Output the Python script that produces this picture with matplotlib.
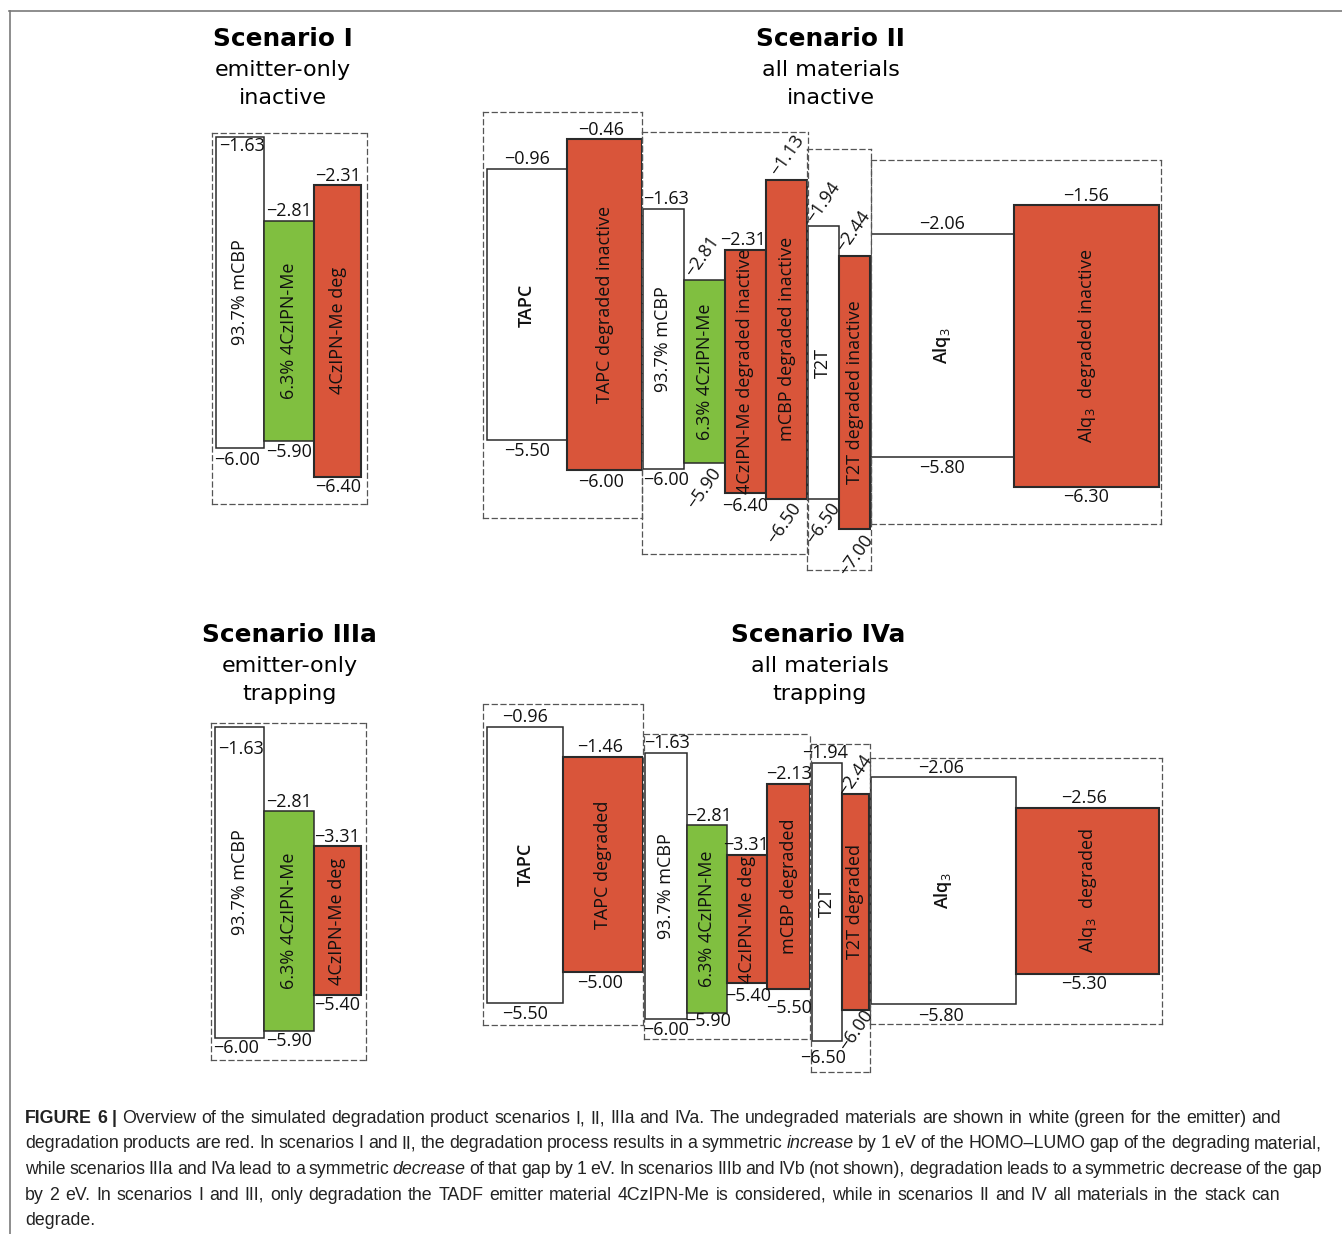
import numpy as np
import matplotlib.pyplot as plt
from matplotlib.lines import Line2D

W, H = 1342, 1234

plt.rcParams['mathtext.fontset'] = 'custom'
plt.rcParams['mathtext.rm'] = 'Open Sans'
plt.rcParams['mathtext.it'] = 'Open Sans:italic'

# ---- energy levels in eV (LUMO = top of box, HOMO = bottom) ----
s1_names = ["93.7% mCBP", "6.3% 4CzIPN-Me", "4CzIPN-Me deg"]
s1_lumo = [-1.63, -2.81, -2.31]
s1_homo = [-6.00, -5.90, -6.40]
s1_kind = ["host", "emitter", "deg"]

s2_names = ["TAPC", "TAPC degraded inactive", "93.7% mCBP", "6.3% 4CzIPN-Me",
            "4CzIPN-Me degraded inactive", "mCBP degraded inactive", "T2T",
            "T2T degraded inactive", r"Alq$_\mathrm{3}$", r"Alq$_\mathrm{3}$  degraded inactive"]
s2_lumo = [-0.96, -0.46, -1.63, -2.81, -2.31, -1.13, -1.94, -2.44, -2.06, -1.56]
s2_homo = [-5.50, -6.00, -6.00, -5.90, -6.40, -6.50, -6.50, -7.00, -5.80, -6.30]
s2_kind = ["host", "deg", "host", "emitter", "deg", "deg", "host", "deg", "host", "deg"]

s3_names = ["93.7% mCBP", "6.3% 4CzIPN-Me", "4CzIPN-Me deg"]
s3_lumo = [-1.63, -2.81, -3.31]
s3_homo = [-6.00, -5.90, -5.40]
s3_kind = ["host", "emitter", "deg"]

s4_names = ["TAPC", "TAPC degraded", "93.7% mCBP", "6.3% 4CzIPN-Me", "4CzIPN-Me deg",
            "mCBP degraded", "T2T", "T2T degraded", r"Alq$_\mathrm{3}$", r"Alq$_\mathrm{3}$  degraded"]
s4_lumo = [-0.96, -1.46, -1.63, -2.81, -3.31, -2.13, -1.94, -2.44, -2.06, -2.56]
s4_homo = [-5.50, -5.00, -6.00, -5.90, -5.40, -5.50, -6.50, -6.00, -5.80, -5.30]
s4_kind = ["host", "deg", "host", "emitter", "deg", "deg", "host", "deg", "host", "deg"]

bold_names = ["TAPC", r"Alq$_\mathrm{3}$"]

fill = {"host": "#ffffff", "emitter": "#80bf40", "deg": "#d9553a"}
edge_lw = {"host": 1.1, "emitter": 1.1, "deg": 1.5}

# ---- layout: dashed group boxes (pixels), energy range, bar edges ----
s1_groups = [dict(box=(211.7, 132.7, 366.7, 504), ylim=(-6.786, -1.574),
                  edges=[215.7, 264.3, 314.3, 361.3])]
s2_groups = [dict(box=(482.7, 111.7, 642.3, 517.7), ylim=(-6.796, 0.005),
                  edges=[486.7, 567.3, 641.7]),
             dict(box=(642.3, 132.3, 807.7, 554), ylim=(-7.423, -0.336),
                  edges=[642.7, 684, 725, 766, 807.3]),
             dict(box=(807.3, 149, 870.7, 570), ylim=(-7.678, -0.662),
                  edges=[807.7, 839, 870]),
             dict(box=(870.7, 160, 1161, 524.3), ylim=(-6.934, -0.811),
                  edges=[870.7, 1014, 1159])]
s3_groups = [dict(box=(211, 722.7, 365.7, 1060), ylim=(-6.305, -1.574),
                  edges=[215, 264, 314, 360.7])]
s4_groups = [dict(box=(483.3, 704, 643.3, 1025), ylim=(-5.866, -0.587),
                  edges=[487.3, 563.3, 643.3]),
             dict(box=(644, 734, 810, 1039), ylim=(-6.329, -1.313),
                  edges=[645, 686.7, 727.3, 767.3, 810]),
             dict(box=(810.7, 744, 870, 1071.7), ylim=(-7.012, -1.623),
                  edges=[811.7, 841.7, 869.3]),
             dict(box=(870, 758.3, 1162.3, 1024), ylim=(-6.124, -1.747),
                  edges=[870.7, 1016, 1159.3])]

# level label offsets in pixels: (dx, dy downwards, rotation) for LUMO and HOMO
s1_off = {0: ((2, 9.5, 0), (-3, 12, 0)), 2: ((0, -9, 0), (0, 10, 0))}
s2_off = {1: ((-3, -9, 0), (-3, 12, 0)), 2: ((3, -10, 0), (3, 11, 0)),
          3: ((-2, -23, 55), (0, 25, 55)), 4: ((-2, -9.5, 0), (0, 13, 0)),
          5: ((1, -24, 55), (-2, 24, 55)), 6: ((0, -23, 55), (0, 24, 55)),
          7: ((-1, -24, 55), (2, 26, 55)), 9: ((0, -9, 0), (0, 10, 0))}
s3_off = {0: ((2, 22.5, 0), (-3, 10, 0)), 1: ((0, -9, 0), (0, 10, 0)),
          2: ((0, -9, 0), (0, 10, 0))}
s4_off = {1: ((-3, -10, 0), (-3, 10.5, 0)), 2: ((1, -10, 0), (0, 11, 0)),
          3: ((2, -9, 0), (1, 8.5, 0)), 4: ((-1, -10, 0), (1, 13.5, 0)),
          5: ((0, -10, 0), (0, 19, 0)), 6: ((-2, -10, 0), (-4, 17.5, 0)),
          7: ((0, -18, 55), (1, 20, 55)), 8: ((-2, -9.5, 0), (-2, 11.5, 0)),
          9: ((-4, -9.5, 0), (-4, 10.5, 0))}

fig = plt.figure(figsize=(W / 100, H / 100), dpi=100)


def fmt(v):
    return f"{v:.2f}".replace("-", "\u2212")


def draw_scenario(names, lumo, homo, kinds, groups, offsets, inner_size):
    i = 0
    for g in groups:
        l, t, r, b = g["box"]
        ax = fig.add_axes([l / W, 1 - b / H, (r - l) / W, (b - t) / H])
        ax.patch.set_visible(False)
        edges = g["edges"]
        for k in range(len(edges) - 1):
            j = i + k
            x0, x1 = edges[k], edges[k + 1]
            ax.bar(x0, lumo[j] - homo[j], bottom=homo[j], width=x1 - x0,
                   align="edge", color=fill[kinds[j]], edgecolor="#2a2a2a",
                   linewidth=edge_lw[kinds[j]],
                   zorder=3 if kinds[j] == "deg" else 2)
            xc = (x0 + x1) / 2
            ax.text(xc, (lumo[j] + homo[j]) / 2, names[j], rotation=90,
                    ha="center", va="center", fontsize=inner_size,
                    family="Open Sans", color="#111111", zorder=5,
                    fontweight="semibold" if names[j] in bold_names else "normal")
            top, bot = offsets.get(j, ((0, -10, 0), (0, 11, 0)))
            for val, (dx, dy, rot) in ((lumo[j], top), (homo[j], bot)):
                ax.annotate(fmt(val), xy=(xc, val), xytext=(dx, -dy),
                            textcoords="offset pixels", ha="center", va="center",
                            rotation=rot, fontsize=13, family="Open Sans",
                            color="#111111", annotation_clip=False, zorder=6)
        i += len(edges) - 1
        ax.set_xlim(l, r)
        ax.set_ylim(*g["ylim"])
        ax.set_xticks([])
        ax.set_yticks([])
        for sp in ax.spines.values():
            sp.set_linestyle((0, (4, 3)))
            sp.set_linewidth(0.9)
            sp.set_edgecolor("#555555")


draw_scenario(s1_names, s1_lumo, s1_homo, s1_kind, s1_groups, s1_off, 13)
draw_scenario(s2_names, s2_lumo, s2_homo, s2_kind, s2_groups, s2_off, 13)
draw_scenario(s3_names, s3_lumo, s3_homo, s3_kind, s3_groups, s3_off, 13)
draw_scenario(s4_names, s4_lumo, s4_homo, s4_kind, s4_groups, s4_off, 13)

# scenario headings
titles = [(282.5, 282.5, "Scenario I", ["emitter-only", "inactive"], 46.5),
          (830.5, 831, "Scenario II", ["all materials", "inactive"], 46.5),
          (289.5, 289.5, "Scenario IIIa", ["emitter-only", "trapping"], 642),
          (818, 820, "Scenario IVa", ["all materials", "trapping"], 642)]
for xt, xs, title, sub, yb in titles:
    fig.text(xt / W, 1 - yb / H, title, ha="center", va="baseline",
             fontsize=17.8, fontweight="bold", family="DejaVu Sans")
    for n, line in enumerate(sub):
        fig.text(xs / W, 1 - (yb + 29.5 + 28.5 * n) / H, line, ha="center",
                 va="baseline", fontsize=16, family="DejaVu Sans")

# frame lines
fig.add_artist(Line2D([9 / W, 1], [1 - 10.5 / H] * 2, color="#7a7a7a", lw=1.2))
fig.add_artist(Line2D([9.5 / W] * 2, [0, 1 - 10.5 / H], color="#7a7a7a", lw=1.2))

# caption: word by word, lines justified to their right edge
caption = [
    [("FIGURE 6 |", "b"), ("Overview of the simulated degradation product scenarios I, II, IIIa and IVa. "
                           "The undegraded materials are shown in white (green for the emitter) and", "r")],
    [("degradation products are red. In scenarios I and II, the degradation process results in a symmetric", "r"),
     ("increase", "i"), ("by 1 eV of the HOMO\u2013LUMO gap of the degrading material,", "r")],
    [("while scenarios IIIa and IVa lead to a symmetric", "r"), ("decrease", "i"),
     ("of that gap by 1 eV. In scenarios IIIb and IVb (not shown), degradation leads to a symmetric decrease of the gap", "r")],
    [("by 2 eV. In scenarios I and III, only degradation the TADF emitter material 4CzIPN-Me is considered, "
      "while in scenarios II and IV all materials in the stack can", "r")],
    [("degrade.", "r")],
]
line_ends = [1281, 1322, 1322, 1280, None]
cap_size = 12.8
space_px = 0.278 * cap_size * 100 / 72
renderer = fig.canvas.get_renderer()
for n, pieces in enumerate(caption):
    yb = H - (1123 + 25.5 * n)
    words = [(w, style) for txt, style in pieces for w in txt.split(" ")]
    texts = [fig.text(0, yb / H, w, fontsize=cap_size, family="Liberation Sans",
                      color="#222222", va="baseline", ha="left",
                      fontweight="bold" if s == "b" else "normal",
                      fontstyle="italic" if s == "i" else "normal")
             for w, s in words]
    widths = [t.get_window_extent(renderer).width for t in texts]
    if line_ends[n] is not None and len(words) > 1:
        gap = (line_ends[n] - 25 - sum(widths)) / (len(words) - 1)
    else:
        gap = space_px
    x = 25
    for t, w in zip(texts, widths):
        t.set_x(x / W)
        x += w + gap

fig.savefig("out.png", dpi=100)
